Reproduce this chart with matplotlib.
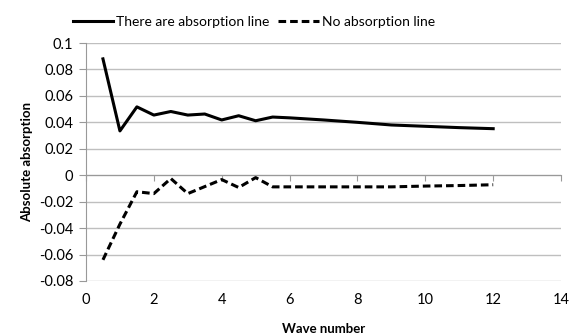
import matplotlib.pyplot as plt

# wave number
wave = [0.5, 1, 1.5, 2, 2.5, 3, 3.5, 4, 4.5, 5, 5.5, 6, 7, 8, 9, 10, 11, 12]
# absolute absorption
med_linje = [0.088, 0.0335, 0.0517, 0.0455, 0.0482, 0.0455, 0.0463, 0.0418, 0.0450,
             0.0412, 0.0440, 0.0434, 0.0418, 0.0400, 0.0380, 0.0370, 0.0360, 0.0352]
uten_linje = [-0.064, -0.037, -0.0125, -0.0139, -0.0025, -0.0139, -0.0086, -0.0033, -0.0093,
              -0.0018, -0.0088, -0.0088, -0.0088, -0.0088, -0.0088, -0.0082, -0.0078, -0.0072]

x_ticks = [0, 2, 4, 6, 8, 10, 12, 14]
y_ticks = [-0.08, -0.06, -0.04, -0.02, 0, 0.02, 0.04, 0.06, 0.08, 0.1]
y_labels = ["-0.08", "-0.06", "-0.04", "-0.02", "0", "0.02", "0.04", "0.06", "0.08", "0.1"]

plt.rcParams['font.family'] = ['Lato', 'DejaVu Sans']

fig = plt.figure(figsize=(5.79, 3.36), dpi=100)
ax = fig.add_axes([0.1485, 0.1637, 0.8205, 0.7083])

ax.plot(wave, med_linje, color='black', lw=2.2, label='There are absorption line')
ax.plot(wave, uten_linje, color='black', lw=2.2, dashes=(2.5, 1.3), label='No absorption line')

ax.set_xlim(0, 14)
ax.set_ylim(-0.08, 0.1)
ax.set_yticks(y_ticks)
ax.set_yticklabels(y_labels, fontsize=10.5)
ax.set_xticks(x_ticks)
ax.grid(axis='y', color='#bfbfbf', lw=1)
ax.set_axisbelow(True)

for side in ['top', 'right']:
    ax.spines[side].set_visible(False)
ax.spines['left'].set_color('#999999')
ax.spines['bottom'].set_color('#999999')
ax.spines['bottom'].set_position(('data', 0))
ax.tick_params(axis='y', direction='out', length=5, color='#999999', pad=4)
ax.tick_params(axis='x', direction='out', length=4, color='#999999', labelbottom=False)

# x tick labels at the bottom of the plot
sec = ax.secondary_xaxis(0)
sec.set_xticks(x_ticks)
sec.spines['bottom'].set_visible(False)
sec.tick_params(length=0, labelsize=10.5, pad=9)

ax.set_ylabel('Absolute absorption', fontsize=9.5, fontweight='bold', labelpad=4)
sec.set_xlabel('Wave number', fontsize=9.5, fontweight='bold', labelpad=11)

ax.legend(loc='lower center', bbox_to_anchor=(0.353, 1.04), ncol=2, frameon=False,
          fontsize=10, handlelength=2.95, handletextpad=0.2, columnspacing=0.6,
          borderaxespad=0)

fig.savefig('out.png', dpi=100)
